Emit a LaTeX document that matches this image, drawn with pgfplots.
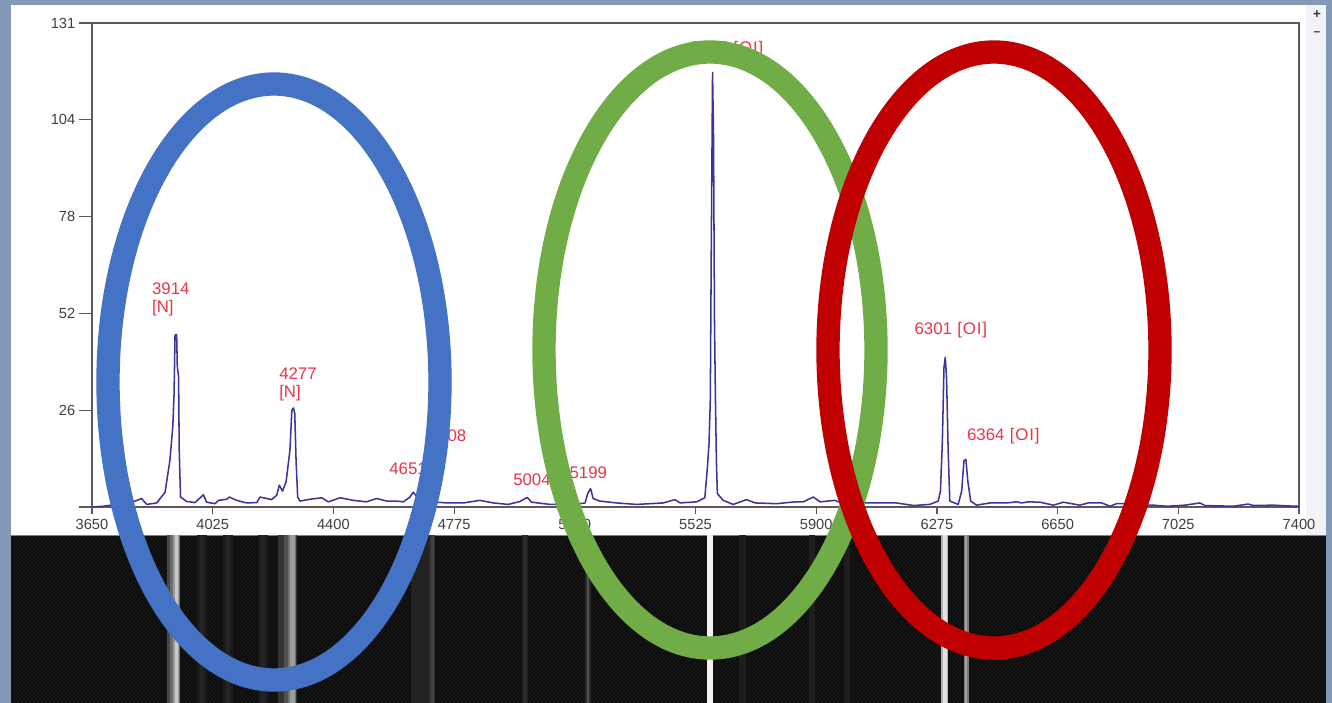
\documentclass[border=0pt]{standalone}
\usepackage{fontspec}
\setmainfont{Liberation Sans}
\usepackage{pgfplots}
\pgfplotsset{compat=1.18}
\usetikzlibrary{patterns}
\definecolor{pagebg}{HTML}{8498B8}
\definecolor{sidebar}{HTML}{F0F3F8}
\definecolor{framegray}{HTML}{5A5A5A}
\definecolor{ticktext}{HTML}{404040}
\definecolor{specline}{HTML}{36369C}
\definecolor{linered}{HTML}{EE3344}
\definecolor{stripbg}{HTML}{0C0C0C}
\definecolor{ellblue}{HTML}{4472C4}
\definecolor{ellgreen}{HTML}{70AD47}
\definecolor{ellred}{HTML}{C00000}
% one vertical band of the spectrum image: {wavelength}{width}{percent white}
\newcommand{\band}[3]{\addplot[ycomb, no markers, line width=#2, color=white!#3!stripbg] coordinates {(#1,1)};}
\newcommand{\OI}{\hspace{4pt}[\kern0.6pt O\kern0.8pt I\kern0.6pt]}

\begin{document}
\begin{tikzpicture}
% canvas in reference pixels, origin top left
\begin{scope}[x=0.75pt,y=-0.75pt]
  \path[use as bounding box] (0,0) rectangle (1332,703);
  \fill[pagebg] (0,0) rectangle (1332,703);
  \fill[white] (11,5) rectangle (1306,535);
  \fill[sidebar] (1306,5) rectangle (1326,535);
  \fill[stripbg] (11,535) rectangle (1326,703);
  \fill[pattern=crosshatch dots, pattern color=white!16!stripbg] (11,535) rectangle (1326,703);
  \draw[gray, line width=0.6pt] (11,535) -- (1326,535);
  \coordinate (plotorigin) at (92,507);
  \coordinate (striporigin) at (11,703);
  \node[text=black!80,font=\bfseries\fontsize{10}{10}\selectfont] at (1317,15) {+};
  \node[text=black!80,font=\bfseries\fontsize{9}{9}\selectfont] at (1317,34) {--};
\end{scope}

% spectrum image strip
\begin{axis}[
    at={(striporigin)}, anchor=south west,
    scale only axis, width=986.25pt, height=126pt,
    xmin=3398.3, xmax=7483.9, ymin=0, ymax=1,
    hide axis, clip=true,
    ]
    \band{3903}{9.75pt}{25}
    \band{3908}{7.5pt}{40}
    \band{3911}{4.5pt}{58}
    \band{3912.5}{2.25pt}{78}
    \band{4257}{14.25pt}{16}
    \band{4265}{9pt}{28}
    \band{4271}{6pt}{42}
    \band{4273}{3.75pt}{60}
    \band{3992}{7pt}{6}
    \band{3992}{3pt}{10}
    \band{4073}{7pt}{6}
    \band{4073}{3pt}{10}
    \band{4181}{8pt}{6}
    \band{4181}{3pt}{10}
    \band{4672}{15pt}{9}
    \band{4706}{4pt}{14}
    \band{4708}{1.8pt}{22}
    \band{4995}{4pt}{8}
    \band{4995}{1.6pt}{15}
    \band{5191}{5pt}{12}
    \band{5191}{2.2pt}{28}
    \band{5670}{5pt}{7}
    \band{5887}{5pt}{8}
    \band{5996}{4pt}{7}
    \band{5570}{5pt}{95}
    \band{6300}{5.2pt}{68}
    \band{6300}{2.6pt}{88}
    \band{6366}{4pt}{45}
    \band{6366}{1.8pt}{62}
\end{axis}

% y ticks, on their own because they are longer than the x ticks
\begin{axis}[
    at={(plotorigin)}, anchor=south west,
    scale only axis, width=905.25pt, height=363pt,
    xmin=3650, xmax=7400, ymin=0, ymax=131,
    axis line style={draw=none},
    tick align=outside, ytick pos=left, xtick=\empty,
    ytick={0,26.2,52.4,78.6,104.8,131},
    yticklabels={,26,52,78,104,131},
    major tick length=9.5pt,
    ytick style={color=framegray, line width=0.9pt},
    yticklabel style={xshift=0.5pt},
    tick label style={text=ticktext, font=\fontsize{11}{12}\selectfont},
    /pgf/number format/assume math mode=true,
    ]
\end{axis}

% line spectrum
\begin{axis}[
    at={(plotorigin)}, anchor=south west,
    scale only axis, width=905.25pt, height=363pt,
    xmin=3650, xmax=7400, ymin=0, ymax=131,
    axis line style={color=framegray, line width=0.9pt},
    tick align=outside, xtick pos=bottom, ytick=\empty,
    xtick={3650,4025,4400,4775,5150,5525,5900,6275,6650,7025,7400},
    major tick length=5.5pt,
    xtick style={color=framegray, line width=0.9pt},
    tick label style={text=ticktext, font=\fontsize{11}{12}\selectfont},
    /pgf/number format/1000 sep={},
    /pgf/number format/assume math mode=true,
    ]
    \addplot[color=specline, line width=1.15pt, no markers, line join=round] coordinates {
      (3650,0) (3685,0.2) (3778,1.4) (3804,2.3) (3820,0.7) (3851,1.1) (3877,4.0) (3892,12.6)
      (3901,21.7) (3905,30.7) (3908,46.6) (3913,46.6) (3915,38.0) (3919,35.2) (3921,15.4)
      (3925,2.7) (3944,1.5) (3970,1.2) (3986,2.5) (3996,3.3) (4006,1.3) (4032,0.9) (4043,1.8)
      (4068,2.1) (4077,2.7) (4099,1.8) (4131,1.1) (4162,1.2) (4172,2.7) (4208,2.0) (4224,3.2)
      (4232,5.9) (4242,4.3) (4253,6.8) (4265,15.4) (4271,26.2) (4276,26.8) (4280,25.3)
      (4284,12.6) (4289,2.7) (4296,1.6) (4327,2.1) (4364,2.5) (4384,1.4) (4421,2.5) (4462,1.8)
      (4503,1.4) (4534,2.3) (4566,1.6) (4597,1.6) (4617,1.4) (4638,2.7) (4648,4.0) (4669,1.8)
      (4711,1.4) (4752,1.1) (4804,1.1) (4855,1.8) (4897,1.1) (4943,0.7) (4980,1.5) (5002,2.6)
      (5016,1.3) (5073,0.7) (5166,0.9) (5182,1.1) (5190,3.6) (5199,5.0) (5207,2.3) (5228,1.6)
      (5280,1.1) (5342,0.7) (5425,1.1) (5461,2.0) (5477,1.1) (5529,1.4) (5554,2.5) (5562,10.8)
      (5567,17.2) (5571,29) (5574,70) (5578,117.6) (5581,100) (5584,50) (5587,29) (5590,12)
      (5593,3.6) (5611,1.8) (5642,0.7) (5684,2.0) (5710,1.1) (5777,0.9) (5834,1.4) (5860,1.4)
      (5891,2.7) (5912,1.4) (5958,1.8) (5985,0.9) (6026,1.1) (6098,1.1) (6150,1.1) (6202,0.4)
      (6253,0.7) (6279,1.6) (6286,4.3) (6292,17.9) (6297,37.8) (6301,40.5) (6305,35) (6310,15.2)
      (6315,1.6) (6341,0.7) (6352,4.3) (6359,12.5) (6365,12.9) (6371,7) (6380,1.6) (6398,0.5)
      (6440,1.1) (6492,1.1) (6523,1.4) (6538,1.1) (6559,1.4) (6595,1.3) (6637,0.5) (6668,1.3)
      (6719,0.5) (6745,1.1) (6787,1.1) (6813,0.2) (6833,0.9) (6854,0.9) (6927,0.5) (6947,0.5)
      (6989,0.2) (7046,0.5) (7092,1.1) (7108,0.4) (7196,0.2) (7242,0.8) (7258,0.4) (7320,0.5)
      (7387,0.2) (7400,0.2)};
    \begin{scope}[every node/.style={text=linered, anchor=west, inner sep=0pt, align=left,
        font=\fontsize{12.6}{13.6}\selectfont}]
      \node at (axis cs:3836,56.3) {3914\\{[N]}};
      \node at (axis cs:4231,33.3) {4277\\{[N]}};
      \node at (axis cs:4573,10.3) {4651};
      \node at (axis cs:4696,19.2) {4708};
      \node at (axis cs:4958,7.5) {5004};
      \node at (axis cs:5133,9.3) {5199};
      \node at (axis cs:5510,124) {5577\OI};
      \node at (axis cs:6205,48) {6301\OI};
      \node at (axis cs:6368,19.2) {6364\OI};
    \end{scope}
\end{axis}

% hand drawn ellipses on top
\begin{scope}[x=0.75pt,y=-0.75pt]
  \draw[ellblue, line width=17.5pt] (274,382) ellipse [x radius=166, y radius=298];
  \draw[ellgreen, line width=17.5pt] (710,350) ellipse [x radius=166, y radius=298];
  \draw[ellred, line width=17.5pt] (994,350) ellipse [x radius=166, y radius=298];
\end{scope}
\end{tikzpicture}
\end{document}
